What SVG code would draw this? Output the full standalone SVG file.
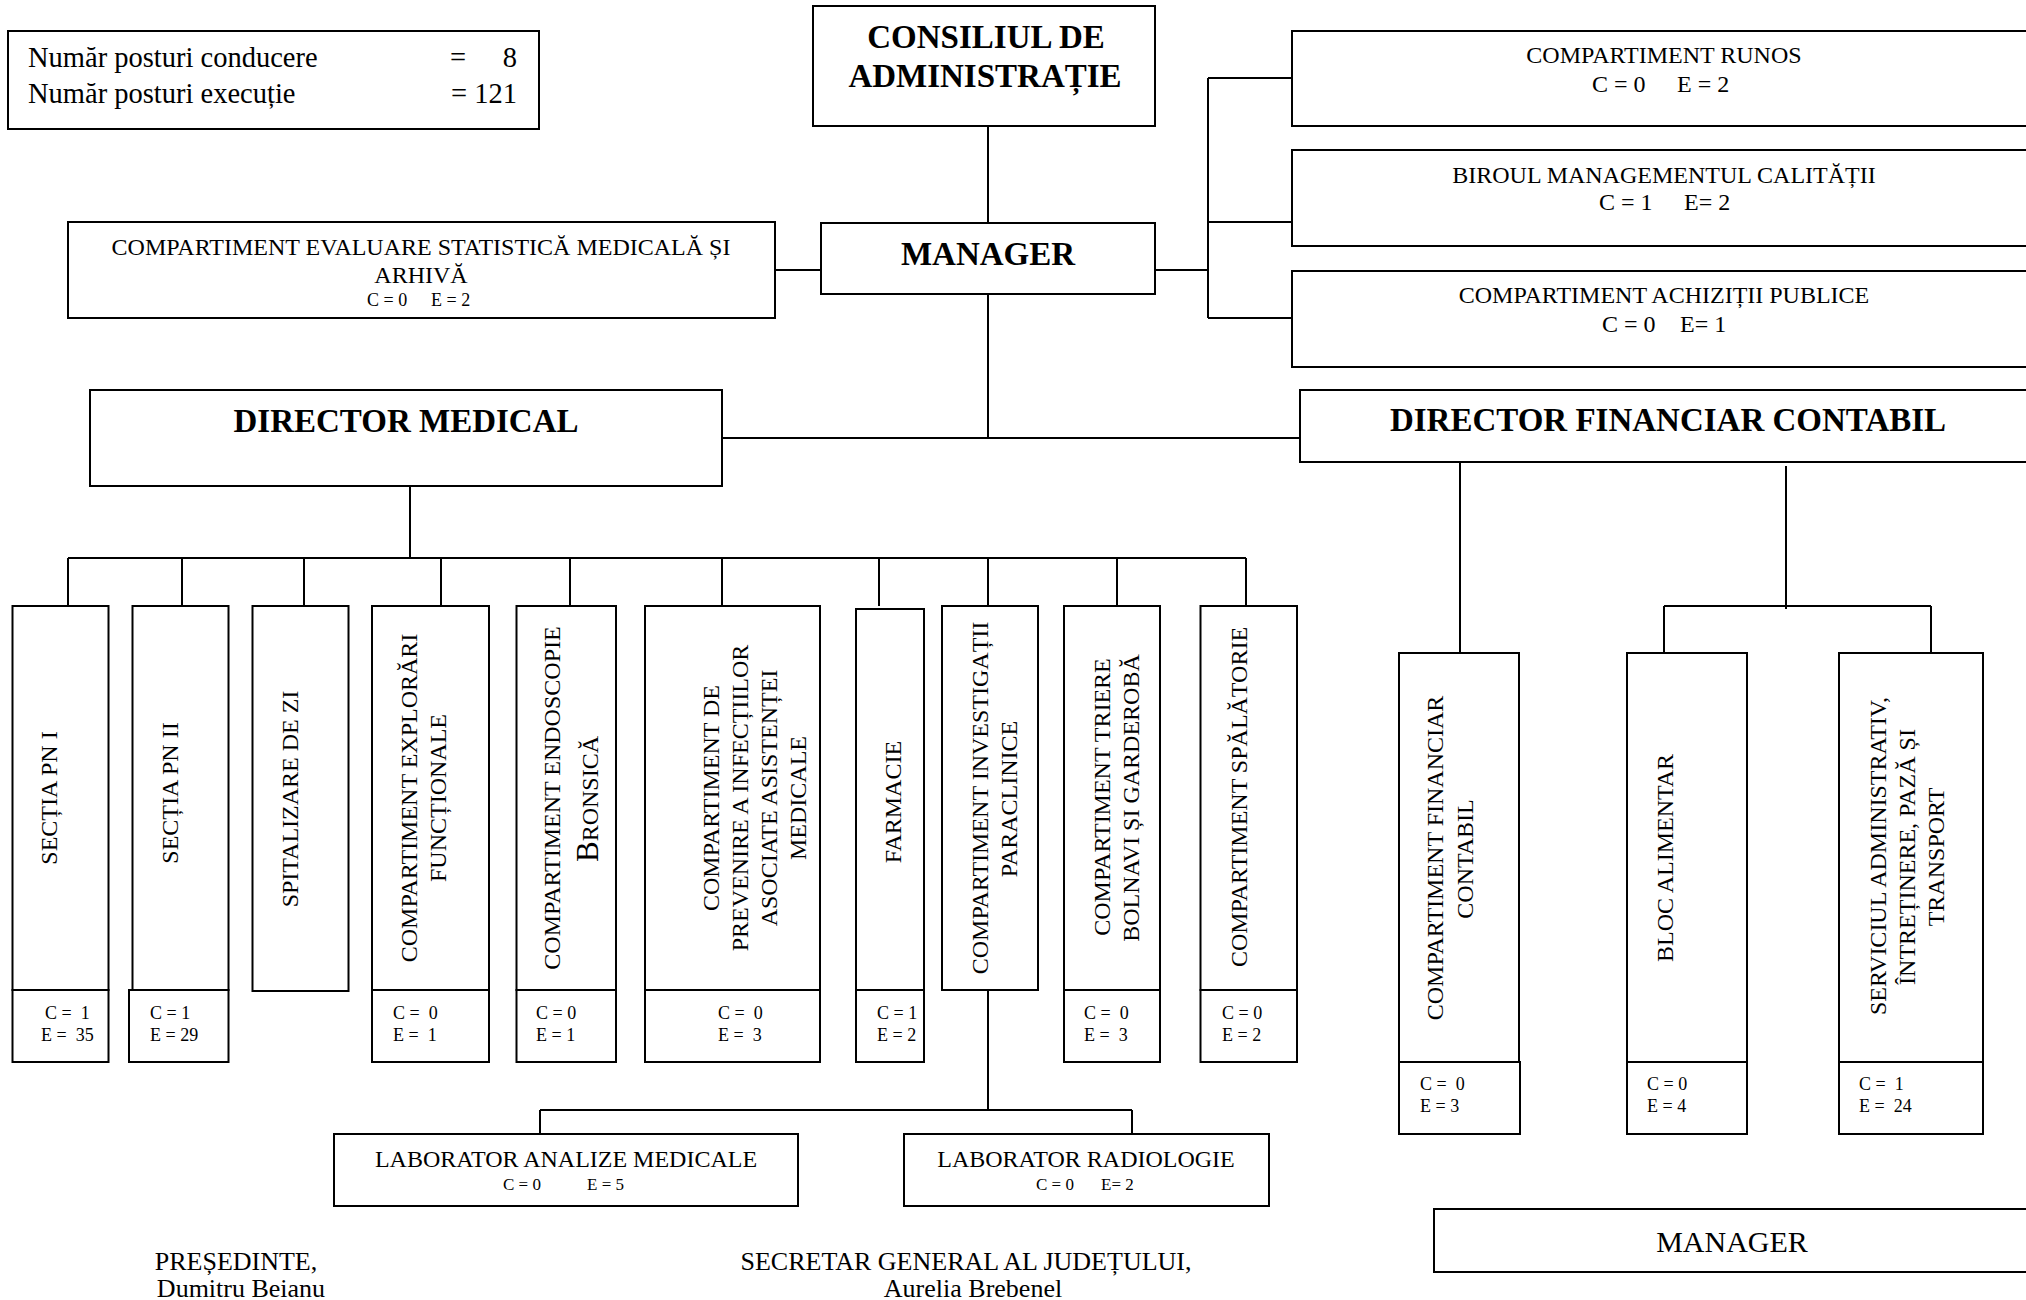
<svg xmlns="http://www.w3.org/2000/svg" width="2026" height="1300" viewBox="0 0 2026 1300">
<style>
.box{fill:#fff;stroke:#000;stroke-width:2}
.conn{fill:none;stroke:#000;stroke-width:2}
text{font-family:"Liberation Serif","Times New Roman",serif;fill:#000;white-space:pre}
.b{font-weight:bold;font-size:33px}
.r{font-size:24px}
.s{font-size:18px}
.m{text-anchor:middle}
.sg{font-size:26px;text-anchor:middle}
.lg{font-size:28.5px}
</style>
<rect width="2026" height="1300" fill="#fff"/>

<g id="connectors">
<path class="conn" d="M988 126V223 M775 270H821 M1155 270H1208 M1208 78V318 M1208 78H1292 M1208 222H1292 M1208 318H1292 M988 294V438 M722 438H1300 M410 486V558 M68 558H1246 M68 558V606 M182 558V606 M304 558V606 M441 558V606 M570 558V606 M722 558V606 M879 558V606 M988 558V606 M1117 558V606 M1246 558V606 M988 990V1110 M540 1110H1132 M540 1110V1134 M1132 1110V1134 M1460 462V653 M1786 466V609 M1664 606H1931 M1664 606V653 M1931 606V653"/>
</g>

<g id="legend">
<rect class="box" x="8" y="31" width="531" height="98"/>
<text class="lg" x="28" y="67">Număr posturi conducere</text>
<text class="lg" x="450" y="67">=</text>
<text class="lg" x="517" y="67" text-anchor="end">8</text>
<text class="lg" x="28" y="103">Număr posturi execuție</text>
<text class="lg" x="517" y="103" text-anchor="end">= 121</text>
</g>

<g id="consiliu">
<rect class="box" x="813" y="6" width="342" height="120"/>
<text class="b m" x="986" y="48">CONSILIUL DE</text>
<text class="b m" x="985" y="87">ADMINISTRAȚIE</text>
</g>

<g id="manager">
<rect class="box" x="821" y="223" width="334" height="71"/>
<text class="b m" x="988" y="265" font-size="32">MANAGER</text>
</g>

<g id="evaluare">
<rect class="box" x="68" y="222" width="707" height="96"/>
<text class="r m" x="421" y="255" font-size="24.5">COMPARTIMENT EVALUARE STATISTICĂ MEDICALĂ ȘI</text>
<text class="r m" x="421" y="283">ARHIVĂ</text>
<text class="s" x="367" y="306">C = 0</text>
<text class="s" x="431" y="306">E = 2</text>
</g>

<g id="runos">
<rect class="box" x="1292" y="31" width="748" height="95"/>
<text class="r m" x="1664" y="63">COMPARTIMENT RUNOS</text>
<text class="r" x="1592" y="92">C = 0</text>
<text class="r" x="1677" y="92">E = 2</text>
</g>

<g id="biroul-calitate">
<rect class="box" x="1292" y="150" width="748" height="96"/>
<text class="r m" x="1664" y="183">BIROUL MANAGEMENTUL CALITĂȚII</text>
<text class="r" x="1599" y="210">C = 1</text>
<text class="r" x="1684" y="210">E= 2</text>
</g>

<g id="achizitii">
<rect class="box" x="1292" y="271" width="748" height="96"/>
<text class="r m" x="1664" y="303">COMPARTIMENT ACHIZIȚII PUBLICE</text>
<text class="r" x="1602" y="332">C = 0</text>
<text class="r" x="1680" y="332">E= 1</text>
</g>

<g id="director-medical">
<rect class="box" x="90" y="390" width="632" height="96"/>
<text class="b m" x="406" y="432" font-size="31.5">DIRECTOR MEDICAL</text>
</g>

<g id="director-financiar">
<rect class="box" x="1300" y="390" width="740" height="72"/>
<text class="b m" x="1668" y="431" font-size="31.5">DIRECTOR FINANCIAR CONTABIL</text>
</g>

<g id="sectia-pn1">
<rect class="box" x="12.5" y="606" width="96" height="384"/>
<rect class="box" x="12.5" y="990" width="96" height="72"/>
<text class="r m" transform="translate(57,798) rotate(-90)">SECȚIA PN I</text>
<text class="s" x="45" y="1019">C =  1</text>
<text class="s" x="41" y="1041">E =  35</text>
</g>

<g id="sectia-pn2">
<rect class="box" x="132.5" y="606" width="96" height="384"/>
<rect class="box" x="129" y="990" width="99.5" height="72"/>
<text class="r m" transform="translate(178,793) rotate(-90)">SECȚIA PN II</text>
<text class="s" x="150" y="1019">C = 1</text>
<text class="s" x="150" y="1041">E = 29</text>
</g>

<g id="spitalizare">
<rect class="box" x="252.5" y="606" width="96" height="385"/>
<text class="r m" transform="translate(298,799) rotate(-90)">SPITALIZARE DE ZI</text>
</g>

<g id="explorari">
<rect class="box" x="372" y="606" width="117" height="384"/>
<rect class="box" x="372" y="990" width="117" height="72"/>
<text class="r m" transform="translate(417,798) rotate(-90)">COMPARTIMENT EXPLORĂRI</text>
<text class="r m" transform="translate(446,798) rotate(-90)">FUNCȚIONALE</text>
<text class="s" x="393" y="1019">C =  0</text>
<text class="s" x="393" y="1041">E =  1</text>
</g>

<g id="endoscopie">
<rect class="box" x="516.5" y="606" width="99.5" height="384"/>
<rect class="box" x="516.5" y="990" width="99.5" height="72"/>
<text class="r m" transform="translate(560,798) rotate(-90)">COMPARTIMENT ENDOSCOPIE</text>
<text class="r m" transform="translate(598,799) rotate(-90)"><tspan font-size="31">B</tspan>RONSICĂ</text>
<text class="s" x="536" y="1019">C = 0</text>
<text class="s" x="536" y="1041">E = 1</text>
</g>

<g id="prevenire">
<rect class="box" x="645" y="606" width="175" height="384"/>
<rect class="box" x="645" y="990" width="175" height="72"/>
<text class="r m" transform="translate(719,798) rotate(-90)">COMPARTIMENT DE</text>
<text class="r m" transform="translate(748,798) rotate(-90)">PREVENIRE A INFECȚIILOR</text>
<text class="r m" transform="translate(777,798) rotate(-90)">ASOCIATE ASISTENȚEI</text>
<text class="r m" transform="translate(806,798) rotate(-90)">MEDICALE</text>
<text class="s" x="718" y="1019">C =  0</text>
<text class="s" x="718" y="1041">E =  3</text>
</g>

<g id="farmacie">
<rect class="box" x="856" y="609" width="68" height="381"/>
<rect class="box" x="856" y="990" width="68" height="72"/>
<text class="r m" transform="translate(901,802) rotate(-90)">FARMACIE</text>
<text class="s" x="877" y="1019">C = 1</text>
<text class="s" x="877" y="1041">E = 2</text>
</g>

<g id="investigatii">
<rect class="box" x="942" y="606" width="96" height="384"/>
<text class="r m" transform="translate(988,798) rotate(-90)">COMPARTIMENT INVESTIGAȚII</text>
<text class="r m" transform="translate(1017,799) rotate(-90)">PARACLINICE</text>
</g>

<g id="triere">
<rect class="box" x="1064" y="606" width="96" height="384"/>
<rect class="box" x="1064" y="990" width="96" height="72"/>
<text class="r m" transform="translate(1110,797) rotate(-90)">COMPARTIMENT TRIERE</text>
<text class="r m" transform="translate(1139,798) rotate(-90)">BOLNAVI ȘI GARDEROBĂ</text>
<text class="s" x="1084" y="1019">C =  0</text>
<text class="s" x="1084" y="1041">E =  3</text>
</g>

<g id="spalatorie">
<rect class="box" x="1200.5" y="606" width="96.5" height="384"/>
<rect class="box" x="1200.5" y="990" width="96.5" height="72"/>
<text class="r m" transform="translate(1247,797) rotate(-90)">COMPARTIMENT SPĂLĂTORIE</text>
<text class="s" x="1222" y="1019">C = 0</text>
<text class="s" x="1222" y="1041">E = 2</text>
</g>

<g id="lab-analize">
<rect class="box" x="334" y="1134" width="464" height="72"/>
<text class="r m" x="566" y="1167">LABORATOR ANALIZE MEDICALE</text>
<text x="503" y="1190" font-size="17">C = 0</text>
<text x="587" y="1190" font-size="17">E = 5</text>
</g>

<g id="lab-radiologie">
<rect class="box" x="904" y="1134" width="365" height="72"/>
<text class="r m" x="1086" y="1167">LABORATOR RADIOLOGIE</text>
<text x="1036" y="1190" font-size="17">C = 0</text>
<text x="1101" y="1190" font-size="17">E= 2</text>
</g>

<g id="comp-financiar">
<rect class="box" x="1399" y="653" width="120" height="409"/>
<rect class="box" x="1399" y="1062" width="121" height="72"/>
<text class="r m" transform="translate(1443,858) rotate(-90)">COMPARTIMENT FINANCIAR</text>
<text class="r m" transform="translate(1473,859) rotate(-90)">CONTABIL</text>
<text class="s" x="1420" y="1090">C =  0</text>
<text class="s" x="1420" y="1112">E = 3</text>
</g>

<g id="bloc-alimentar">
<rect class="box" x="1627" y="653" width="120" height="409"/>
<rect class="box" x="1627" y="1062" width="120" height="72"/>
<text class="r m" transform="translate(1673,858) rotate(-90)">BLOC ALIMENTAR</text>
<text class="s" x="1647" y="1090">C = 0</text>
<text class="s" x="1647" y="1112">E = 4</text>
</g>

<g id="serviciul-administrativ">
<rect class="box" x="1839" y="653" width="144" height="409"/>
<rect class="box" x="1839" y="1062" width="144" height="72"/>
<text class="r m" transform="translate(1886,856) rotate(-90)">SERVICIUL ADMINISTRATIV,</text>
<text class="r m" transform="translate(1915,857) rotate(-90)">ÎNTREȚINERE, PAZĂ ȘI</text>
<text class="r m" transform="translate(1944,857) rotate(-90)">TRANSPORT</text>
<text class="s" x="1859" y="1090">C =  1</text>
<text class="s" x="1859" y="1112">E =  24</text>
</g>

<g id="manager-semnatura">
<rect class="box" x="1434" y="1209" width="606" height="63"/>
<text x="1732" y="1252" font-size="30" text-anchor="middle">MANAGER</text>
</g>

<g id="presedinte">
<text class="sg" x="236" y="1270">PREȘEDINTE,</text>
<text class="sg" x="241" y="1297">Dumitru Beianu</text>
</g>

<g id="secretar">
<text class="sg" x="966" y="1270">SECRETAR GENERAL AL JUDEȚULUI,</text>
<text class="sg" x="973" y="1297">Aurelia Brebenel</text>
</g>
</svg>
